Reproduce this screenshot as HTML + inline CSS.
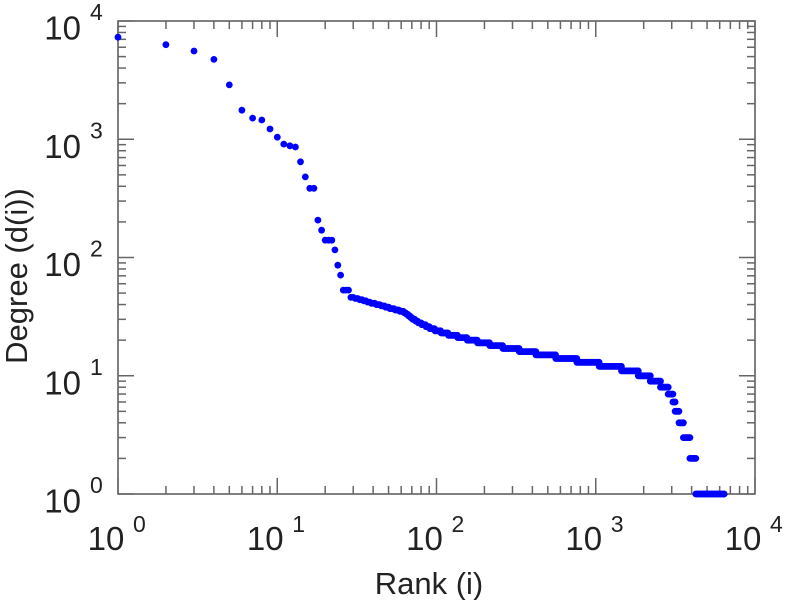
<!DOCTYPE html>
<html><head><meta charset="utf-8"><style>
body{margin:0;background:#fff;}
svg{display:block;font-family:"Liberation Sans",sans-serif;}
</style></head><body>
<svg id="chart" width="786" height="600" viewBox="0 0 786 600" xmlns="http://www.w3.org/2000/svg">
<g id="axes"></g>
<g id="points"></g>
<text x="429" y="594" font-size="31" text-anchor="middle" fill="#222">Rank (i)</text>
<text transform="translate(27,276) rotate(-90)" font-size="31" text-anchor="middle" fill="#222">Degree (d(i))</text>
</svg>
<script>
const topRanks = [1,2,3,4,5,6,7,8,9,10,11,12,13,14,15,16,17,18,19,20,21,22,23,24,25,26,27,28];
const topDegrees = [7300,6300,5580,4730,2880,1760,1510,1455,1220,1040,910,880,860,645,480,385,385,207,170,140,140,140,116,86,71,53,53,53];
const levelDegrees = [46,45,44,43,42,41,40,39,38,37,36,35,34,33,32,31,30,29,28,27,26,25,24,23,22,21,20,19,18,17,16,15,14,13,12,11,10,9,8,7,6,5,4,3,2,1];
const levelEndRanks = [30,32,34,36,38,41,44,47,50,54,58,62,64,66,68,70,73,76,80,85,90,97,106,118,135,155,180,215,260,330,420,560,760,1050,1450,1850,2200,2550,2850,3050,3150,3330,3550,3900,4250,6400];
const xDecades = [0,1,2,3,4];
const yDecades = [0,1,2,3,4];

const L=118,R=755,T=21,B=494;
const xs = v => L + (Math.log10(v))/4*(R-L);
const ys = v => B - (Math.log10(v))/4*(B-T);
const NS="http://www.w3.org/2000/svg";
const axes=document.getElementById('axes');
function mk(tag,attrs,parent){const e=document.createElementNS(NS,tag);for(const k in attrs)e.setAttribute(k,attrs[k]);parent.appendChild(e);return e;}
const frame=mk('rect',{x:L,y:T,width:R-L,height:B-T,fill:'none',stroke:'#555','stroke-width':1.5},axes);


const tc='#666';
for(let d=0;d<4;d++){for(let m=1;m<=10;m++){
  const v=m*Math.pow(10,d); if(m===10&&d<3) continue;
  const len=(m===1||m===10)?16:8;
  const x=xs(v), y=ys(v);
  mk('line',{x1:x,y1:B,x2:x,y2:B-len,stroke:tc,'stroke-width':1.5},axes);
  mk('line',{x1:x,y1:T,x2:x,y2:T+len,stroke:tc,'stroke-width':1.5},axes);
  mk('line',{x1:L,y1:y,x2:L+len,y2:y,stroke:tc,'stroke-width':1.5},axes);
  mk('line',{x1:R,y1:y,x2:R-len,y2:y,stroke:tc,'stroke-width':1.5},axes);
}}
xDecades.forEach(e=>{
  const x=xs(Math.pow(10,e));
  const t=mk('text',{x:x-12,y:550,'font-size':33,'text-anchor':'middle',fill:'#222'},axes);
  t.textContent='10';
  
  
  const s=mk('text',{x:x+15,y:532,'font-size':23,'text-anchor':'start',fill:'#222'},axes);
  s.textContent=String(e);
});
yDecades.forEach(e=>{
  const y=ys(Math.pow(10,e));
  const t=mk('text',{x:81,y:y+18.5,'font-size':33,'text-anchor':'end',fill:'#222'},axes);
  t.textContent='10';
  
  
  const s=mk('text',{x:90,y:y-1,'font-size':23,'text-anchor':'start',fill:'#222'},axes);
  s.textContent=String(e);
});
const pts=document.getElementById('points');
function dot(r,d){
  const c=mk('circle',{cx:xs(r).toFixed(1),cy:ys(d).toFixed(1),r:3.4,fill:'#0000ff'},pts);
  
  
}
topRanks.forEach((r,i)=>dot(r,topDegrees[i]));
let start=topRanks[topRanks.length-1]+1;
levelDegrees.forEach((d,i)=>{
  const end=levelEndRanks[i];
  let lastX=-99;
  for(let r=start;r<=end;r++){
    const x=xs(r);
    if(x-lastX>=1||r===end){dot(r,d);lastX=x;}
  }
  start=end+1;
});
</script>
</body></html>
